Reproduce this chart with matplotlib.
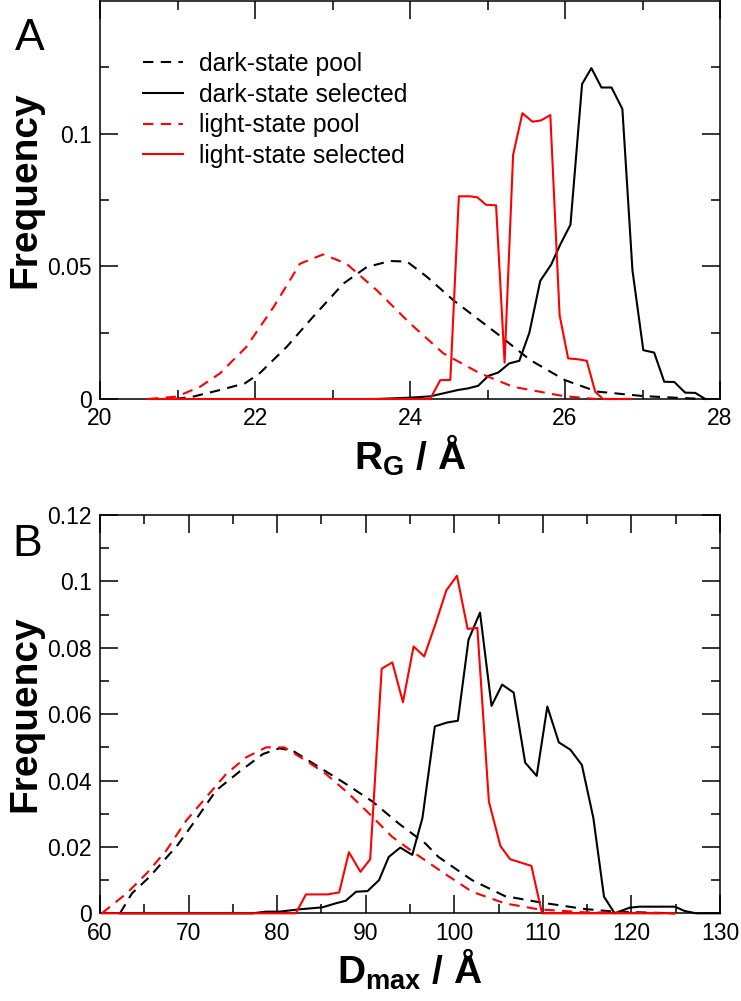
import numpy as np
import matplotlib
matplotlib.use('Agg')
import matplotlib.pyplot as plt
from matplotlib.ticker import FuncFormatter

# Fonts: Helvetica-like everywhere, bold math for the axis labels
plt.rcParams['font.family'] = ['Liberation Sans', 'DejaVu Sans']
plt.rcParams['mathtext.fontset'] = 'custom'
plt.rcParams['mathtext.rm'] = 'Liberation Sans'
plt.rcParams['mathtext.bf'] = 'Liberation Sans:bold'

LABELS = ['dark-state pool', 'dark-state selected', 'light-state pool', 'light-state selected']

# ---- Panel A : radius of gyration (Angstrom) ----
RG_DARK_POOL_X = [20.97, 21.2, 21.55, 21.87, 22.06, 22.41, 22.75, 23.14, 23.44, 23.74, 23.96,
                  24.22, 24.56, 25.12, 25.55, 26.0, 26.41, 27.01, 27.48, 27.8]
RG_DARK_POOL_Y = [0, 0.0009, 0.0034, 0.0059, 0.0097, 0.0197, 0.031, 0.0435, 0.0497, 0.052, 0.0518,
                  0.046, 0.0372, 0.0247, 0.0147, 0.0071, 0.0028, 0.0011, 0.0004, 0]

RG_DARK_SEL_X = [23.57, 24.0, 24.26, 24.47, 24.62, 24.75, 24.88, 25.01, 25.14, 25.28, 25.41, 25.54,
                 25.68, 25.82, 25.94, 26.07, 26.22, 26.34, 26.47, 26.60, 26.74, 26.87, 27.01, 27.15,
                 27.28, 27.41, 27.55, 27.68, 27.81]
RG_DARK_SEL_Y = [0, 0.0005, 0.001, 0.0024, 0.0034, 0.004, 0.005, 0.0087, 0.010, 0.0134, 0.0144, 0.025,
                 0.0445, 0.0506, 0.0583, 0.0657, 0.1187, 0.1247, 0.1174, 0.1174, 0.1093, 0.0485, 0.0184,
                 0.0175, 0.0065, 0.0064, 0.0024, 0.0023, 0]

RG_LIGHT_POOL_X = [20.62, 20.99, 21.29, 21.55, 21.89, 22.24, 22.58, 22.88, 23.18, 23.57, 24.0,
                   24.43, 24.9, 25.33, 25.98, 26.4, 26.86]
RG_LIGHT_POOL_Y = [0, 0.0009, 0.0046, 0.0097, 0.0197, 0.0347, 0.051, 0.0545, 0.051, 0.041, 0.0285,
                   0.0172, 0.0097, 0.0046, 0.0011, 0, 0]

RG_LIGHT_SEL_X = [20.62, 24.26, 24.39, 24.52, 24.63, 24.77, 24.87, 24.98, 25.11, 25.22, 25.33, 25.45,
                  25.58, 25.69, 25.81, 25.93, 26.04, 26.16, 26.28, 26.39, 26.49, 26.86]
RG_LIGHT_SEL_Y = [0, 0, 0.0071, 0.0072, 0.0764, 0.0764, 0.0760, 0.0732, 0.0730, 0.0137, 0.0920, 0.1077,
                  0.1045, 0.1050, 0.1070, 0.0316, 0.0153, 0.0150, 0.0144, 0.0027, 0, 0]

# ---- Panel B : maximum dimension (Angstrom) ----
DM_DARK_POOL_X = [62.25, 63.6, 65.6, 67.9, 68.6, 70.5, 73.1, 75.75, 78.4, 80.25, 81.75, 84.75, 87.75,
                  90.75, 93.75, 96.75, 98.2, 102.0, 105.7, 109.9, 114.7, 118.1, 124.9]
DM_DARK_POOL_Y = [0, 0.006, 0.011, 0.018, 0.020, 0.027, 0.037, 0.0427, 0.048, 0.0497, 0.049, 0.044,
                  0.039, 0.0337, 0.027, 0.021, 0.017, 0.010, 0.0052, 0.0032, 0.0013, 0.0005, 0]

DM_DARK_SEL_X = [62.25, 77.2, 78.75, 80.25, 82.5, 85.1, 86.6, 87.75, 88.9, 90.2, 91.5, 92.6, 93.9,
                 95.25, 96.4, 97.8, 99.2, 100.4, 101.6, 102.9, 104.2, 105.4, 106.7, 108.0, 109.3,
                 110.5, 111.8, 113.1, 114.4, 115.7, 116.9, 118.1, 119.8, 120.9, 124.9, 126.0, 127.3, 130]
DM_DARK_SEL_Y = [0, 0, 0.0005, 0.0005, 0.0012, 0.0018, 0.003, 0.0038, 0.0065, 0.0067, 0.010, 0.017,
                 0.0198, 0.0176, 0.0287, 0.0563, 0.0575, 0.058, 0.0824, 0.0906, 0.0625, 0.0689, 0.0665,
                 0.0454, 0.0414, 0.0623, 0.0515, 0.0493, 0.0447, 0.0287, 0.005, 0, 0.0017, 0.002,
                 0.002, 0.0007, 0, 0]

DM_LIGHT_POOL_X = [60.2, 63.0, 65.25, 67.5, 69.75, 72.0, 74.25, 76.5, 78.75, 80.8, 83.25, 85.5, 88.1,
                   90.4, 93.0, 95.6, 98.6, 102.0, 105.7, 109.5, 114.7, 124.9]
DM_LIGHT_POOL_Y = [0, 0.006, 0.012, 0.019, 0.028, 0.035, 0.042, 0.047, 0.050, 0.050, 0.046, 0.042,
                   0.036, 0.030, 0.023, 0.018, 0.0125, 0.0065, 0.003, 0.0012, 0.0003, 0]

DM_LIGHT_SEL_X = [60.2, 82.1, 83.25, 85.7, 87.0, 88.1, 89.4, 90.5, 91.8, 93.0, 94.2, 95.4, 96.6,
                  97.9, 99.1, 100.3, 101.5, 102.6, 103.9, 105.2, 106.3, 108.7, 109.9, 124.9]
DM_LIGHT_SEL_Y = [0, 0, 0.0057, 0.0057, 0.0063, 0.0184, 0.0125, 0.0163, 0.0737, 0.0756, 0.0636,
                  0.0804, 0.0774, 0.0874, 0.0973, 0.1017, 0.0857, 0.086, 0.0337, 0.0203, 0.0163,
                  0.0143, 0, 0]

PANEL_A = [(RG_DARK_POOL_X, RG_DARK_POOL_Y), (RG_DARK_SEL_X, RG_DARK_SEL_Y),
           (RG_LIGHT_POOL_X, RG_LIGHT_POOL_Y), (RG_LIGHT_SEL_X, RG_LIGHT_SEL_Y)]
PANEL_B = [(DM_DARK_POOL_X, DM_DARK_POOL_Y), (DM_DARK_SEL_X, DM_DARK_SEL_Y),
           (DM_LIGHT_POOL_X, DM_LIGHT_POOL_Y), (DM_LIGHT_SEL_X, DM_LIGHT_SEL_Y)]

# colour and dash per series, same order as LABELS
STYLES = [('black', (0, (5, 3.5))), ('black', '-'), ('red', (0, (5, 3.5))), ('red', '-')]

TICK_FS = 16.5
LABEL_FS = 28


def fmt(v, pos):
  return '%g' % round(v, 4)


def style_axes(ax, xlim, ylim, xmaj, xmin, ymaj, ymin):
  '''
  Grace-like axes: inward ticks on all four sides.
  '''
  ax.set_xlim(*xlim)
  ax.set_ylim(*ylim)
  ax.set_xticks(xmaj)
  ax.set_xticks(xmin, minor=True)
  ax.set_yticks(ymaj)
  ax.set_yticks(ymin, minor=True)
  ax.xaxis.set_major_formatter(FuncFormatter(fmt))
  ax.yaxis.set_major_formatter(FuncFormatter(fmt))
  ax.tick_params(which='both', direction='in', top=True, right=True, width=1.1, labelsize=TICK_FS)
  ax.tick_params(which='major', length=13)
  ax.tick_params(which='minor', length=6.5)
  ax.tick_params(axis='y', pad=6)
  ax.tick_params(axis='x', pad=6)
  for s in ax.spines.values():
    s.set_linewidth(1.1)


def draw(ax, series):
  for (x, y), (c, ls), lab in zip(series, STYLES, LABELS):
    ax.plot(x, y, color=c, linestyle=ls, linewidth=1.5, label=lab, clip_on=False, zorder=3)


fig = plt.figure(figsize=(7.41, 10.01), dpi=100)

# Panel A
ax1 = fig.add_axes([0.1350, 0.6014, 0.8367, 0.3976])
draw(ax1, PANEL_A)
style_axes(ax1, (20, 28), (0, 0.15),
           np.arange(20, 29, 2), np.arange(21, 28, 2),
           [0, 0.05, 0.1], [0.025, 0.075, 0.125])
ax1.set_xlabel(r'$\mathbf{R_G}$ / Å', fontsize=LABEL_FS, fontweight='bold')
ax1.set_ylabel('Frequency', fontsize=LABEL_FS, fontweight='bold')
ax1.xaxis.set_label_coords(0.5, -0.085)
ax1.yaxis.set_label_coords(-0.092, 0.525)
ax1.legend(loc='upper left', bbox_to_anchor=(0.07, 0.872), frameon=False, fontsize=17.8,
           handlelength=1.6, handletextpad=0.65, labelspacing=0.27, borderpad=0, borderaxespad=0)

# Panel B
ax2 = fig.add_axes([0.1350, 0.0876, 0.8367, 0.3979])
draw(ax2, PANEL_B)
style_axes(ax2, (60, 130), (0, 0.12),
           np.arange(60, 131, 10), np.arange(65, 130, 10),
           np.arange(0, 0.121, 0.02), np.arange(0.01, 0.12, 0.02))
ax2.set_xlabel(r'$\mathbf{D_{max}}$ / Å', fontsize=LABEL_FS, fontweight='bold')
ax2.set_ylabel('Frequency', fontsize=LABEL_FS, fontweight='bold')
ax2.xaxis.set_label_coords(0.5, -0.085)
ax2.yaxis.set_label_coords(-0.092, 0.5)

# panel letters
fig.text(30 / 741, 1 - 39 / 1001, 'A', fontsize=32, ha='center', va='center')
fig.text(27 / 741, 1 - 544 / 1001, 'B', fontsize=32, ha='center', va='center')

plt.savefig('out.png', dpi=100)
